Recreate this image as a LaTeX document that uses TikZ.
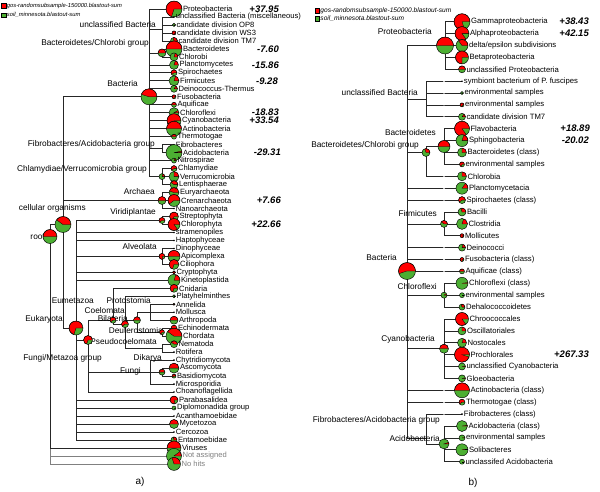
\documentclass[tikz,border=0pt]{standalone}
\usepackage{fontspec}
\setmainfont{Liberation Sans}
\usetikzlibrary{backgrounds}
\definecolor{gosred}{HTML}{FF0000}
\definecolor{soilgreen}{HTML}{4CAF32}
\definecolor{edgegray}{HTML}{262626}

\begin{document}
\begin{tikzpicture}[x=1pt, y=-1pt,
  pie/.style 2 args={circle, draw=black, line width=0.45pt, fill=soilgreen, inner sep=0pt, minimum size=2*#1pt,
    path picture={\filldraw[fill=gosred, draw=black, line width=0.3pt] (path picture bounding box.center) -- ++(0:#1pt)
      arc[start angle=0, delta angle=3.6*#2, radius=#1pt] -- cycle;}},
  dot/.style={circle, fill=black, inner sep=0pt, minimum size=1.8pt},
  joint/.style={inner sep=0pt, minimum size=0pt},
  gap/.style={circle, fill=white, inner sep=0pt, minimum size=1.6pt},
  leaf/.style={font=\fontsize{7.6}{8}\selectfont, inner sep=0.6pt},
  leafb/.style={font=\fontsize{7.7}{8}\selectfont, inner sep=0.6pt},
  ta/.style={label={[leaf]right:#1}},
  tb/.style={label={[leafb]right:#1}},
  ilbl/.style={anchor=east, inner sep=0pt, font=\fontsize{8.3}{9}\selectfont},
  val/.style={anchor=east, inner sep=0pt, font=\fontsize{9.5}{10}\selectfont\bfseries\itshape},
  lgd/.style={anchor=west, inner sep=0.5pt, font=\fontsize{5.8}{6}\selectfont\itshape},
  sqkey/.style={draw=black, line width=0.4pt, inner sep=0pt, minimum size=4.5pt},
  captxt/.style={font=\fontsize{10}{12}\selectfont},
  link/.style={draw=edgegray, line width=0.7pt}]
  \useasboundingbox (0,0) rectangle (600,491);

  % legends
  \node[sqkey, fill=gosred] (kra) at (3.8,5.5) {};
  \node[lgd] (kral) at (kra.east) {gos-randomsubsample-150000.blastout-sum};
  \node[sqkey, fill=soilgreen] (kga) at (3.8,15) {};
  \node[lgd] (kgal) at (kga.east) {soil\_minnesota.blastout-sum};
  \node[sqkey, fill=gosred] (krb) at (317.3,10.5) {};
  \node[lgd, font=\fontsize{6.6}{7}\selectfont\itshape] (krbl) at (krb.east) {gos-randomsubsample-150000.blastout-sum};
  \node[sqkey, fill=soilgreen] (kgb) at (317.3,18.5) {};
  \node[lgd, font=\fontsize{6.6}{7}\selectfont\itshape] (kgbl) at (kgb.east) {soil\_minnesota.blastout-sum};

  % a) inner labels
  \node[ilbl] (launc) at (156,25) {unclassified Bacteria};
  \node[ilbl] (labcg) at (149,43) {Bacteroidetes/Chlorobi group};
  \node[ilbl] (labac) at (138,84) {Bacteria};
  \node[ilbl] (lafag) at (155,144) {Fibrobacteres/Acidobacteria group};
  \node[ilbl] (lacvg) at (147,169) {Chlamydiae/Verrucomicrobia group};
  \node[ilbl] (laarc) at (155,192) {Archaea};
  \node[ilbl] (lacell) at (86,208) {cellular organisms};
  \node[ilbl] (lavrd) at (156,212) {Viridiplantae};
  \node[ilbl] (laroot) at (45,237) {root};
  \node[ilbl] (laalv) at (157,247) {Alveolata};
  \node[ilbl] (laeum) at (94,301) {Eumetazoa};
  \node[ilbl] (lapro) at (151,301) {Protostomia};
  \node[ilbl] (lacoe) at (125,311) {Coelomata};
  \node[ilbl] (laeuk) at (63,319) {Eukaryota};
  \node[ilbl] (labil) at (128,319) {Bilateria};
  \node[ilbl] (ladeu) at (163,331) {Deuterostomia};
  \node[ilbl] (lapse) at (157,342) {Pseudocoelomata};
  \node[ilbl] (lafmg) at (102,358) {Fungi/Metazoa group};
  \node[ilbl] (ladik) at (162,358) {Dikarya};
  \node[ilbl] (lafun) at (141,371) {Fungi};

  % b) inner labels
  \node[ilbl] (lbprot) at (432,32) {Proteobacteria};
  \node[ilbl] (lbunb) at (418,93) {unclassified Bacteria};
  \node[ilbl] (lbbct) at (436,133) {Bacteroidetes};
  \node[ilbl] (lbbcg) at (419,145) {Bacteroidetes/Chlorobi group};
  \node[ilbl] (lbfir) at (437,214) {Firmicutes};
  \node[ilbl] (lbbact) at (397,258) {Bacteria};
  \node[ilbl] (lbcfl) at (437,287) {Chloroflexi};
  \node[ilbl] (lbcya) at (435,339) {Cyanobacteria};
  \node[ilbl] (lbfag) at (440,420) {Fibrobacteres/Acidobacteria group};
  \node[ilbl] (lbacd) at (440,439) {Acidobacteria};

  % a) inner nodes
  \node[pie={7}{50}] (aroot) at (50,236.5) {};
  \node[pie={8}{40}] (acell) at (63,224.5) {};
  \node[pie={8}{45}] (abac) at (149,96.8) {};
  \node[joint] (aunc) at (162,29) {};
  \node[pie={4}{50}] (abcg) at (162,52.9) {};
  \node[joint] (afag) at (162,148.7) {};
  \node[pie={3}{20}] (acvg) at (162,176.6) {};
  \node[pie={4}{50}] (aarc) at (162,200.5) {};
  \node[pie={7}{70}] (aeuk) at (76,328) {};
  \node[pie={3}{60}] (avrd) at (162,220.5) {};
  \node[pie={3}{80}] (aalv) at (162,256.4) {};
  \node[pie={4.5}{70}] (afmg) at (88,340) {};
  \node[joint] (amet) at (100,320.2) {};
  \node[pie={3}{60}] (aeum) at (113,320.2) {};
  \node[pie={3.5}{60}] (abil) at (125,324.2) {};
  \node[pie={3.5}{50}] (acoe) at (137,320.2) {};
  \node[joint] (apro) at (150,312.2) {};
  \node[pie={2.5}{70}] (adeu) at (162,332.2) {};
  \node[joint] (apse) at (162,348.2) {};
  \node[joint] (afun) at (150,372.1) {};
  \node[pie={3}{50}] (adik) at (162,372.1) {};

  % a) leaves
  \node[pie={8}{70}, ta=Proteobacteria] (aprot) at (174,9.0) {};
  \node[dot, ta={unclassified Bacteria (miscellaneous)}] (aumisc) at (174,17.0) {};
  \node[pie={1.6}{0}, ta={candidate division OP8}] (aop8) at (174,24.9) {};
  \node[pie={2}{90}, ta={candidate division WS3}] (aws3) at (174,32.9) {};
  \node[pie={3.5}{30}, ta={candidate division TM7}] (atm7) at (174,40.9) {};
  \node[pie={8}{50}, ta=Bacteroidetes] (abct) at (174,48.9) {};
  \node[pie={4}{20}, ta=Chlorobi] (achl) at (174,56.9) {};
  \node[pie={4.5}{20}, ta=Planctomycetes] (apla) at (174,64.9) {};
  \node[pie={3}{60}, ta=Spirochaetes] (aspi) at (174,72.8) {};
  \node[pie={5}{20}, ta=Firmicutes] (afir) at (174,80.8) {};
  \node[pie={3.5}{15}, ta=Deinococcus-Thermus] (adei) at (174,88.8) {};
  \node[pie={2}{80}, ta=Fusobacteria] (afus) at (174,96.8) {};
  \node[pie={2.5}{50}, ta=Aquificae] (aaqu) at (174,104.8) {};
  \node[pie={5}{8}, ta=Chloroflexi] (acfl) at (174,112.7) {};
  \node[pie={7}{85}, ta=Cyanobacteria] (acya) at (174,120.7) {};
  \node[pie={7.5}{50}, ta=Actinobacteria] (aact) at (174,128.7) {};
  \node[pie={2.5}{50}, ta=Thermotogae] (athe) at (174,136.7) {};
  \node[dot, ta=Fibrobacteres] (afib) at (174,144.7) {};
  \node[pie={8}{3}, ta=Acidobacteria] (aaci) at (174,152.6) {};
  \node[pie={2.5}{20}, ta=Nitrospirae] (anit) at (174,160.6) {};
  \node[pie={3}{60}, ta=Chlamydiae] (acla) at (174,168.6) {};
  \node[pie={5}{25}, ta=Verrucomicrobia] (aver) at (174,176.6) {};
  \node[pie={4}{40}, ta=Lentisphaerae] (alen) at (174,184.6) {};
  \node[pie={5}{45}, ta=Euryarchaeota] (aeur) at (174,192.5) {};
  \node[pie={6}{60}, ta=Crenarchaeota] (acre) at (174,200.5) {};
  \node[dot, ta=Nanoarchaeota] (anan) at (174,208.5) {};
  \node[pie={4.5}{70}, ta=Streptophyta] (astr) at (174,216.5) {};
  \node[pie={6}{85}, ta=Chlorophyta] (achp) at (174,224.5) {};
  \node[dot, ta=stramenopiles] (astm) at (174,232.4) {};
  \node[dot, ta=Haptophyceae] (ahap) at (174,240.4) {};
  \node[dot, ta=Dinophyceae] (adin) at (174,248.4) {};
  \node[pie={6}{50}, ta=Apicomplexa] (aapi) at (174,256.4) {};
  \node[pie={5}{70}, ta=Ciliophora] (acil) at (174,264.4) {};
  \node[pie={1.5}{100}, ta=Cryptophyta] (acry) at (174,272.3) {};
  \node[pie={6}{20}, ta=Kinetoplastida] (akin) at (174,280.3) {};
  \node[pie={4}{70}, ta=Cnidaria] (acni) at (174,288.3) {};
  \node[pie={1.5}{0}, ta=Platyhelminthes] (aply) at (174,296.3) {};
  \node[pie={1}{100}, ta=Annelida] (aann) at (174,304.3) {};
  \node[dot, ta=Mollusca] (amol) at (174,312.2) {};
  \node[pie={4}{50}, ta=Arthropoda] (aart) at (174,320.2) {};
  \node[pie={3}{70}, ta=Echinodermata] (aech) at (174,328.2) {};
  \node[pie={8}{40}, ta=Chordata] (acho) at (174,336.2) {};
  \node[pie={3.5}{40}, ta=Nematoda] (anem) at (174,344.2) {};
  \node[dot, ta=Rotifera] (arot) at (174,352.1) {};
  \node[dot, ta=Chytridiomycota] (achy) at (174,360.1) {};
  \node[pie={5}{50}, ta=Ascomycota] (aasc) at (174,368.1) {};
  \node[pie={2}{60}, ta=Basidiomycota] (abas) at (174,376.1) {};
  \node[dot, ta=Microsporidia] (amic) at (174,384.1) {};
  \node[dot, ta=Choanoflagellida] (acoa) at (174,392.0) {};
  \node[pie={4}{80}, ta=Parabasalidea] (apar) at (174,400.0) {};
  \node[pie={2}{0}, ta={Diplomonadida group}] (adip) at (174,408.0) {};
  \node[dot, ta=Acanthamoebidae] (aaca) at (174,416.0) {};
  \node[pie={4.5}{50}, ta=Mycetozoa] (amyc) at (174,424.0) {};
  \node[dot, ta=Cercozoa] (acer) at (174,431.9) {};
  \node[pie={3}{30}, ta=Entamoebidae] (aent) at (174,439.9) {};
  \node[pie={7}{50}, ta=Viruses] (avir) at (174,447.9) {};
  \node[pie={7.5}{10}, label={[leaf, text=gray]right:Not assigned}] (anas) at (174,455.9) {};
  \node[pie={6.5}{30}, label={[leaf, text=gray]right:No hits}] (anoh) at (174,463.9) {};

  % a) values
  \node[val] (vaprot) at (279,9.0) {+37.95};
  \node[val] (vabct) at (279,48.9) {-7.60};
  \node[val] (vapla) at (279,64.9) {-15.86};
  \node[val] (vafir) at (278,80.8) {-9.28};
  \node[val] (vacfl) at (279,112.7) {-18.83};
  \node[val] (vacya) at (279,120.7) {+33.54};
  \node[val] (vaaci) at (281,152.6) {-29.31};
  \node[val] (vacre) at (281,200.5) {+7.66};
  \node[val] (vachp) at (281,224.5) {+22.66};

  % b) inner nodes
  \node[pie={8.5}{55}] (bbact) at (407,271) {};
  \node[pie={8.5}{50}] (bprot) at (445,45.5) {};
  \node[joint] (bunb) at (426,99) {};
  \node[gap] (bu1) at (444,81.2) {};
  \node[gap] (bu2) at (444,93.0) {};
  \node[gap] (bu3) at (444,104.9) {};
  \node[gap] (bu4) at (444,116.8) {};
  \node[pie={4}{30}] (bbcg) at (426,152.5) {};
  \node[pie={6}{50}] (bbct) at (444,146.5) {};
  \node[gap] (bchi) at (444,176.3) {};
  \node[gap] (bplm) at (444,188.2) {};
  \node[gap] (bspm) at (444,200.1) {};
  \node[pie={3.5}{40}] (bfir) at (444,223.9) {};
  \node[gap] (bdem) at (444,247.6) {};
  \node[gap] (bfum) at (444,259.5) {};
  \node[gap] (baqm) at (444,271.4) {};
  \node[pie={3}{10}] (bcfl) at (444,295.2) {};
  \node[pie={4.5}{50}] (bcya) at (444,348.7) {};
  \node[gap] (bacm) at (444,390.3) {};
  \node[gap] (bthm) at (444,402.2) {};
  \node[joint] (bfag) at (426,437.9) {};
  \node[gap] (bfim) at (444,414.1) {};
  \node[pie={5}{5}] (bacd) at (444,443.9) {};

  % b) leaves
  \node[pie={8}{80}, tb=Gammaproteobacteria] (bgam) at (462,21.7) {};
  \node[pie={7}{85}, tb=Alphaproteobacteria] (balp) at (462,33.6) {};
  \node[pie={6}{35}, tb={delta/epsilon subdivisions}] (bdel) at (462,45.5) {};
  \node[pie={6.5}{75}, tb=Betaproteobacteria] (bbet) at (462,57.4) {};
  \node[pie={3.5}{50}, tb={unclassified Proteobacteria}] (bunp) at (462,69.3) {};
  \node[dot, tb={symbiont bacterium of P. fuscipes}] (bsym) at (462,81.2) {};
  \node[pie={1.5}{0}, tb={environmental samples}] (benva) at (462,93.0) {};
  \node[pie={2}{80}, tb={environmental samples}] (benvb) at (462,104.9) {};
  \node[pie={3.5}{15}, tb={candidate division TM7}] (btm7) at (462,116.8) {};
  \node[pie={7.5}{85}, tb=Flavobacteria] (bfla) at (462,128.7) {};
  \node[pie={6}{20}, tb=Sphingobacteria] (bsph) at (462,140.6) {};
  \node[pie={4.5}{25}, tb={Bacteroidetes (class)}] (bbcl) at (462,152.5) {};
  \node[pie={2.5}{70}, tb={environmental samples}] (benvc) at (462,164.4) {};
  \node[pie={4.5}{25}, tb=Chlorobia] (bchb) at (462,176.3) {};
  \node[pie={6}{15}, tb=Planctomycetacia] (bpla) at (462,188.2) {};
  \node[pie={3.5}{60}, tb={Spirochaetes (class)}] (bspi) at (462,200.1) {};
  \node[pie={4}{30}, tb=Bacilli] (bbac) at (462,212.0) {};
  \node[pie={5.5}{20}, tb=Clostridia] (bclo) at (462,223.9) {};
  \node[pie={2}{90}, tb=Mollicutes] (bmol) at (462,235.7) {};
  \node[pie={3.5}{20}, tb=Deinococci] (bdei) at (462,247.6) {};
  \node[pie={2}{80}, tb={Fusobacteria (class)}] (bfus) at (462,259.5) {};
  \node[pie={2.5}{50}, tb={Aquificae (class)}] (baqu) at (462,271.4) {};
  \node[pie={6}{2}, tb={Chloroflexi (class)}] (bcfc) at (462,283.3) {};
  \node[pie={2.5}{0}, tb={environmental samples}] (benvd) at (462,295.2) {};
  \node[pie={3}{30}, tb=Dehalococcoidetes] (bdeh) at (462,307.1) {};
  \node[pie={6.5}{85}, tb=Chroococcales] (bchr) at (462,319.0) {};
  \node[pie={4}{25}, tb=Oscillatoriales] (bosc) at (462,330.9) {};
  \node[pie={4.5}{20}, tb=Nostocales] (bnos) at (462,342.8) {};
  \node[pie={7.5}{95}, tb=Prochlorales] (bprc) at (462,354.7) {};
  \node[pie={3.5}{3}, tb={unclassified Cyanobacteria}] (bunc) at (462,366.5) {};
  \node[pie={3.5}{3}, tb=Gloeobacteria] (bglo) at (462,378.4) {};
  \node[pie={7.5}{50}, tb={Actinobacteria (class)}] (bact) at (462,390.3) {};
  \node[pie={3}{60}, tb={Thermotogae (class)}] (bthe) at (462,402.2) {};
  \node[dot, tb={Fibrobacteres (class)}] (bfib) at (462,414.1) {};
  \node[pie={5.5}{2}, tb={Acidobacteria (class)}] (baci) at (462,426.0) {};
  \node[pie={3}{2}, tb={environmental samples}] (benve) at (462,437.9) {};
  \node[pie={6}{2}, tb=Solibacteres] (bsol) at (462,449.8) {};
  \node[pie={2.5}{0}, tb={unclassifed Acidobacteria}] (buna) at (462,461.7) {};

  % b) values
  \node[val] (vbgam) at (589,21.7) {+38.43};
  \node[val] (vbalp) at (589,33.6) {+42.15};
  \node[val] (vbfla) at (590,128.7) {+18.89};
  \node[val] (vbsph) at (589,140.6) {-20.02};
  \node[val] (vbprc) at (589,354.7) {+267.33};

  \node[captxt] (capa) at (140,482) {a)};
  \node[captxt] (capb) at (473,483) {b)};

  % tree edges, under the pies
  \begin{scope}[on background layer]
    \fill[white] (0,0) rectangle (600,491);
    \foreach \c in {anas, anoh} \draw[link, draw=gray] (aroot.center) |- (\c.center);
    \foreach \c in {acell, avir} \draw[link] (aroot.center) |- (\c.center);
    \foreach \c in {abac, aarc, aeuk} \draw[link] (acell.center) |- (\c.center);
    \foreach \c in {aprot, aunc, abcg, apla, aspi, afir, adei, afus, aaqu, acfl, acya, aact, athe, afag, anit, acvg}
      \draw[link] (abac.center) |- (\c.center);
    \foreach \c in {aumisc, aop8, aws3, atm7} \draw[link] (aunc.center) |- (\c.center);
    \foreach \c in {abct, achl} \draw[link] (abcg.center) |- (\c.center);
    \foreach \c in {afib, aaci} \draw[link] (afag.center) |- (\c.center);
    \foreach \c in {acla, aver, alen} \draw[link] (acvg.center) |- (\c.center);
    \foreach \c in {aeur, acre, anan} \draw[link] (aarc.center) |- (\c.center);
    \foreach \c in {avrd, astm, ahap, aalv, acry, akin, afmg, apar, adip, aaca, amyc, acer, aent}
      \draw[link] (aeuk.center) |- (\c.center);
    \foreach \c in {astr, achp} \draw[link] (avrd.center) |- (\c.center);
    \foreach \c in {adin, aapi, acil} \draw[link] (aalv.center) |- (\c.center);
    \foreach \c in {amet, afun, acoa} \draw[link] (afmg.center) |- (\c.center);
    \draw[link] (amet.center) -- (aeum.center);
    \foreach \c in {acni, abil} \draw[link] (aeum.center) |- (\c.center);
    \foreach \c in {aply, acoe, apse} \draw[link] (abil.center) |- (\c.center);
    \foreach \c in {apro, adeu} \draw[link] (acoe.center) |- (\c.center);
    \foreach \c in {aann, amol, aart} \draw[link] (apro.center) |- (\c.center);
    \foreach \c in {aech, acho} \draw[link] (adeu.center) |- (\c.center);
    \foreach \c in {anem, arot} \draw[link] (apse.center) |- (\c.center);
    \foreach \c in {achy, adik, amic} \draw[link] (afun.center) |- (\c.center);
    \foreach \c in {aasc, abas} \draw[link] (adik.center) |- (\c.center);

    \foreach \c in {bprot, bunb, bbcg, bplm, bspm, bfir, bdem, bfum, baqm, bcfl, bcya, bacm, bthm, bfag}
      \draw[link] (bbact.center) |- (\c.center);
    \foreach \c in {bgam, balp, bdel, bbet, bunp} \draw[link] (bprot.center) |- (\c.center);
    \foreach \c in {bu1, bu2, bu3, bu4} \draw[link] (bunb.center) |- (\c.center);
    \draw[link] (bu1.center) -- (bsym.center);
    \draw[link] (bu2.center) -- (benva.center);
    \draw[link] (bu3.center) -- (benvb.center);
    \draw[link] (bu4.center) -- (btm7.center);
    \foreach \c in {bbct, bchi} \draw[link] (bbcg.center) |- (\c.center);
    \foreach \c in {bfla, bsph, bbcl, benvc} \draw[link] (bbct.center) |- (\c.center);
    \draw[link] (bchi.center) -- (bchb.center);
    \draw[link] (bplm.center) -- (bpla.center);
    \draw[link] (bspm.center) -- (bspi.center);
    \foreach \c in {bbac, bclo, bmol} \draw[link] (bfir.center) |- (\c.center);
    \draw[link] (bdem.center) -- (bdei.center);
    \draw[link] (bfum.center) -- (bfus.center);
    \draw[link] (baqm.center) -- (baqu.center);
    \foreach \c in {bcfc, benvd, bdeh} \draw[link] (bcfl.center) |- (\c.center);
    \foreach \c in {bchr, bosc, bnos, bprc, bunc, bglo} \draw[link] (bcya.center) |- (\c.center);
    \draw[link] (bacm.center) -- (bact.center);
    \draw[link] (bthm.center) -- (bthe.center);
    \foreach \c in {bfim, bacd} \draw[link] (bfag.center) |- (\c.center);
    \draw[link] (bfim.center) -- (bfib.center);
    \foreach \c in {baci, benve, bsol, buna} \draw[link] (bacd.center) |- (\c.center);
  \end{scope}
\end{tikzpicture}
\end{document}
